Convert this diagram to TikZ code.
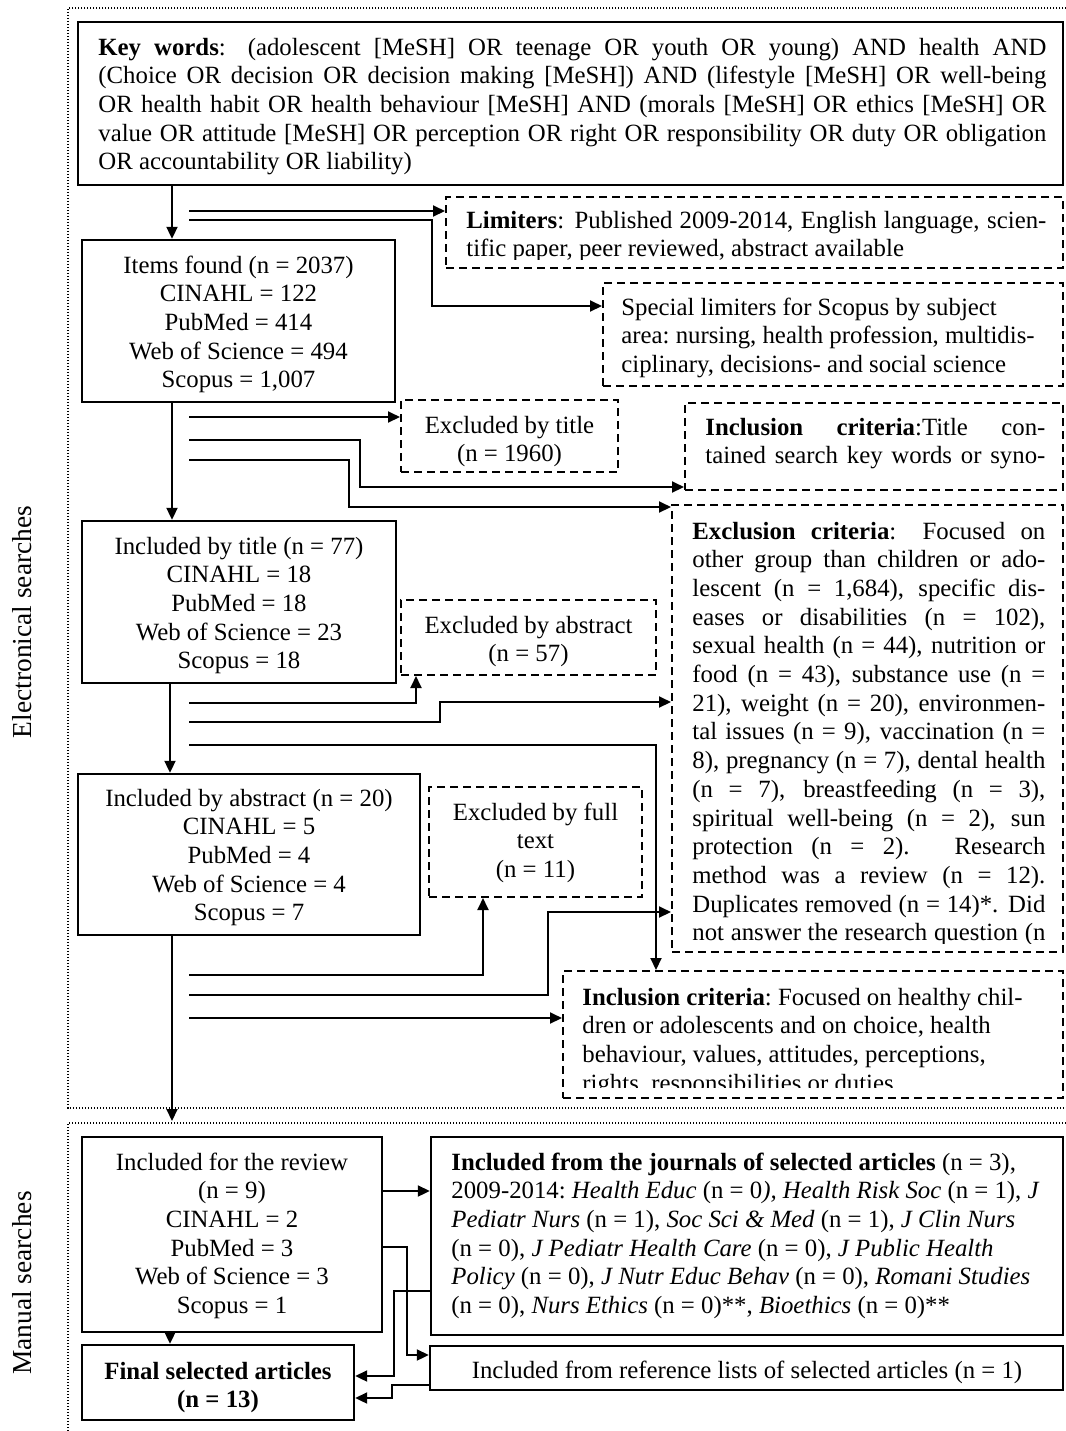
\documentclass[tikz,border=0pt]{standalone}
\usepackage{fontspec}
\setmainfont{Liberation Serif}
\usetikzlibrary{fit,arrows.meta}
\newcommand{\fs}{\spaceskip=0.25em\relax\xspaceskip=0.25em\relax}
\newcommand{\jl}[1]{{\spaceskip=0pt\relax\xspaceskip=0pt\relax\makebox[\hsize][s]{#1}}}
\begin{document}
\begin{tikzpicture}[x=0.5pt,y=-0.5pt,
  font=\fontsize{12.4}{14.35}\selectfont,
  sbox/.style={inner sep=0pt,draw,line width=1.2pt},
  dbox/.style={inner sep=0pt,draw,line width=1pt,dash pattern=on 4pt off 2.5pt},
  frame/.style={line width=1pt,dash pattern=on 0.6pt off 0.9pt},
  arr/.style={line width=1pt,-{Triangle[length=6pt,width=5.5pt]}},
  ltxt/.style={inner sep=0pt,align=left,anchor=base west},
  ctxt/.style={inner sep=0pt,align=center,anchor=base,text width=200pt},
  side/.style={rotate=90,font=\fontsize{13.7}{16}\selectfont}
]
\useasboundingbox (0,0) rectangle (1066,1431);

% dotted frames
\draw[frame] (1066,8) -- (68,8) -- (68,1108) -- (1066,1108);
\draw[frame] (1066,1123) -- (68,1123) -- (68,1431);

% side labels
\node[side] (lab1) at (22,622) {Electronical searches};
\node[side] (lab2) at (22,1283) {Manual searches};

% key words
\node[sbox,fit={(78,22)(1063,185)}] (kw) {};
\node[ltxt,text width=474pt] (kwtxt) at (98,55) {\fs
\jl{\textbf{Key words}: (adolescent [MeSH] OR teenage OR youth OR young) AND health AND}\\
\jl{(Choice OR decision OR decision making [MeSH]) AND (lifestyle [MeSH] OR well-being}\\
\jl{OR health habit OR health behaviour [MeSH] AND (morals [MeSH] OR ethics [MeSH] OR}\\
\jl{value OR attitude [MeSH] OR perception OR right OR responsibility OR duty OR obligation}\\
OR accountability OR liability)};

% items found
\node[sbox,fit={(82,240)(395,402)}] (items) {};
\node[ctxt] (itemstxt) at (238.5,273) {\fs Items found (n = 2037)\\CINAHL = 122\\PubMed = 414\\Web of Science = 494\\Scopus = 1,007};

% limiters
\begin{scope}
\clip (446,197) rectangle (1063,259);
\node[ltxt,text width=290pt] (limtxt) at (466,228) {\fs
\jl{\textbf{Limiters}: Published 2009-2014, English language, scien-}\\
tific paper, peer reviewed, abstract available};
\end{scope}
\node[dbox,fit={(446,197)(1063,268)}] (lim) {};

% special limiters
\node[dbox,fit={(603,283)(1063,386)}] (spec) {};
\node[ltxt,text width=220pt] (spectxt) at (621,315) {\fs Special limiters for Scopus by subject\\area: nursing, health profession, multidis-\\ciplinary, decisions- and social science};

% excluded by title
\node[dbox,fit={(401,400)(618,472)}] (extitle) {};
\node[ctxt] (extitletxt) at (509.5,433) {\fs Excluded by title\\(n = 1960)};

% inclusion criteria (title)
\node[dbox,fit={(685,403)(1063,490)}] (incl1) {};
\node[ltxt,text width=170pt] (incl1txt) at (705,435) {\fs
\jl{\textbf{Inclusion criteria}:Title con-}\\
\jl{tained search key words or syno-}};

% exclusion criteria
\begin{scope}
\clip (672,505) rectangle (1063,943);
\node[ltxt,text width=176.5pt] (exctxt) at (692,539) {\fs
\jl{\textbf{Exclusion criteria}: Focused on}\\
\jl{other group than children or ado-}\\
\jl{lescent (n = 1,684), specific dis-}\\
\jl{eases or disabilities (n = 102),}\\
\jl{sexual health (n = 44), nutrition or}\\
\jl{food (n = 43), substance use (n =}\\
\jl{21), weight (n = 20), environmen-}\\
\jl{tal issues (n = 9), vaccination (n =}\\
\jl{8), pregnancy (n = 7), dental health}\\
\jl{(n = 7), breastfeeding (n = 3),}\\
\jl{spiritual well-being (n = 2), sun}\\
\jl{protection (n = 2). Research}\\
\jl{method was a review (n = 12).}\\
\jl{Duplicates removed (n = 14)*. Did}\\
\jl{not answer the research question (n}};
\end{scope}
\node[dbox,fit={(672,505)(1063,952)}] (excl) {};

% included by title
\node[sbox,fit={(82,521)(396,683)}] (intitle) {};
\node[ctxt] (intitletxt) at (239,554) {\fs Included by title (n = 77)\\CINAHL = 18\\PubMed = 18\\Web of Science = 23\\Scopus = 18};

% excluded by abstract
\node[dbox,fit={(401,600)(656,675)}] (exabs) {};
\node[ctxt] (exabstxt) at (528.5,633) {\fs Excluded by abstract\\(n = 57)};

% included by abstract
\node[sbox,fit={(78,774)(420,935)}] (inabs) {};
\node[ctxt] (inabstxt) at (249,806) {\fs Included by abstract (n = 20)\\CINAHL = 5\\PubMed = 4\\Web of Science = 4\\Scopus = 7};

% excluded by full text
\node[dbox,fit={(429,787)(642,897)}] (exfull) {};
\node[ctxt] (exfulltxt) at (535.5,820) {\fs Excluded by full\\text\\(n = 11)};

% inclusion criteria 2
\begin{scope}
\clip (563,971) rectangle (1063,1087);
\node[ltxt,text width=240pt] (inc2txt) at (582,1005) {\fs
\textbf{Inclusion criteria}: Focused on healthy chil-\\
dren or adolescents and on choice, health\\
behaviour, values, attitudes, perceptions,\\
rights, responsibilities or duties.};
\end{scope}
\node[dbox,fit={(563,971)(1063,1098)}] (incl2) {};

% manual searches
\node[sbox,fit={(82,1137)(382,1332)}] (review) {};
\node[ctxt] (reviewtxt) at (232,1170) {\fs Included for the review\\(n = 9)\\CINAHL = 2\\PubMed = 3\\Web of Science = 3\\Scopus = 1};
\node[sbox,fit={(431,1137)(1063,1335)}] (journals) {};
\node[ltxt,text width=330pt] (journalstxt) at (451,1170) {\fs
\textbf{Included from the journals of selected articles} (n = 3),\\
2009-2014: \textit{Health Educ} (n = 0\textit{), Health Risk Soc} (n = 1), \textit{J}\\
\textit{Pediatr Nurs} (n = 1), \textit{Soc Sci \& Med} (n = 1), \textit{J Clin Nurs}\\
(n = 0), \textit{J Pediatr Health Care} (n = 0), \textit{J Public Health}\\
\textit{Policy} (n = 0), \textit{J Nutr Educ Behav} (n = 0), \textit{Romani Studies}\\
(n = 0), \textit{Nurs Ethics} (n = 0)**, \textit{Bioethics} (n = 0)**};
\node[sbox,fit={(430,1346)(1063,1390)}] (refs) {};
\node[ctxt,text width=320pt] (refstxt) at (747,1378) {\fs Included from reference lists of selected articles (n = 1)};
\node[sbox,fit={(82,1345)(354,1420)}] (final) {};
\node[ctxt] (finaltxt) at (218,1379) {\fs\textbf{Final selected articles}\\\textbf{(n = 13)}};

% trunk arrows
\coordinate (tA) at (172,0);
\coordinate (tB) at (170,0);
\coordinate (man) at (172,1121);
\draw[arr] (tA |- kw.south) -- (tA |- items.north);
\draw[arr] (tA |- items.south) -- (tA |- intitle.north);
\draw[arr] (tB |- intitle.south) -- (tB |- inabs.north);
\draw[arr] (tA |- inabs.south) -- (man);
\draw[arr] (tB |- review.south) -- (tB |- final.north);

% side connectors (electronic)
\coordinate (s1) at (189,211);
\coordinate (s2) at (189,220);  \coordinate (b2) at (432,306);
\coordinate (s3) at (189,417);
\coordinate (s4) at (189,440);  \coordinate (b4) at (360,487);
\coordinate (s5) at (189,460);  \coordinate (b5) at (349,507);
\coordinate (s6) at (189,703);  \coordinate (b6) at (416,703);
\coordinate (s7) at (189,722);  \coordinate (b7) at (440,702);
\coordinate (s8) at (189,745);  \coordinate (b8) at (656,745);
\coordinate (s9) at (189,975);  \coordinate (b9) at (483,975);
\coordinate (s10) at (189,995); \coordinate (b10) at (548,912);
\coordinate (s11) at (189,1018);
\draw[arr] (s1) -- (s1 -| lim.west);
\draw[arr] (s2) -| (b2) -- (b2 -| spec.west);
\draw[arr] (s3) -- (s3 -| extitle.west);
\draw[arr] (s4) -| (b4) -- (b4 -| incl1.west);
\draw[arr] (s5) -| (b5) -- (b5 -| excl.west);
\draw[arr] (s6) -- (b6) -- (b6 |- exabs.south);
\draw[arr] (s7) -| (b7) -- (b7 -| excl.west);
\draw[arr] (s8) -- (b8) -- (b8 |- incl2.north);
\draw[arr] (s9) -- (b9) -- (b9 |- exfull.south);
\draw[arr] (s10) -| (b10) -- (b10 -| excl.west);
\draw[arr] (s11) -- (s11 -| incl2.west);

% manual connectors
\coordinate (r1) at (0,1191);
\coordinate (r2) at (0,1247); \coordinate (b12) at (407,1355);
\coordinate (r3) at (0,1291); \coordinate (b13) at (394,1376);
\coordinate (r4) at (0,1385); \coordinate (b14) at (392,1398);
\draw[arr] (review.east |- r1) -- (journals.west |- r1);
\draw[arr] (review.east |- r2) -| (b12) -- (b12 -| refs.west);
\draw[arr] (journals.west |- r3) -| (b13) -- (b13 -| final.east);
\draw[arr] (refs.west |- r4) -| (b14) -- (b14 -| final.east);
\end{tikzpicture}
\end{document}
